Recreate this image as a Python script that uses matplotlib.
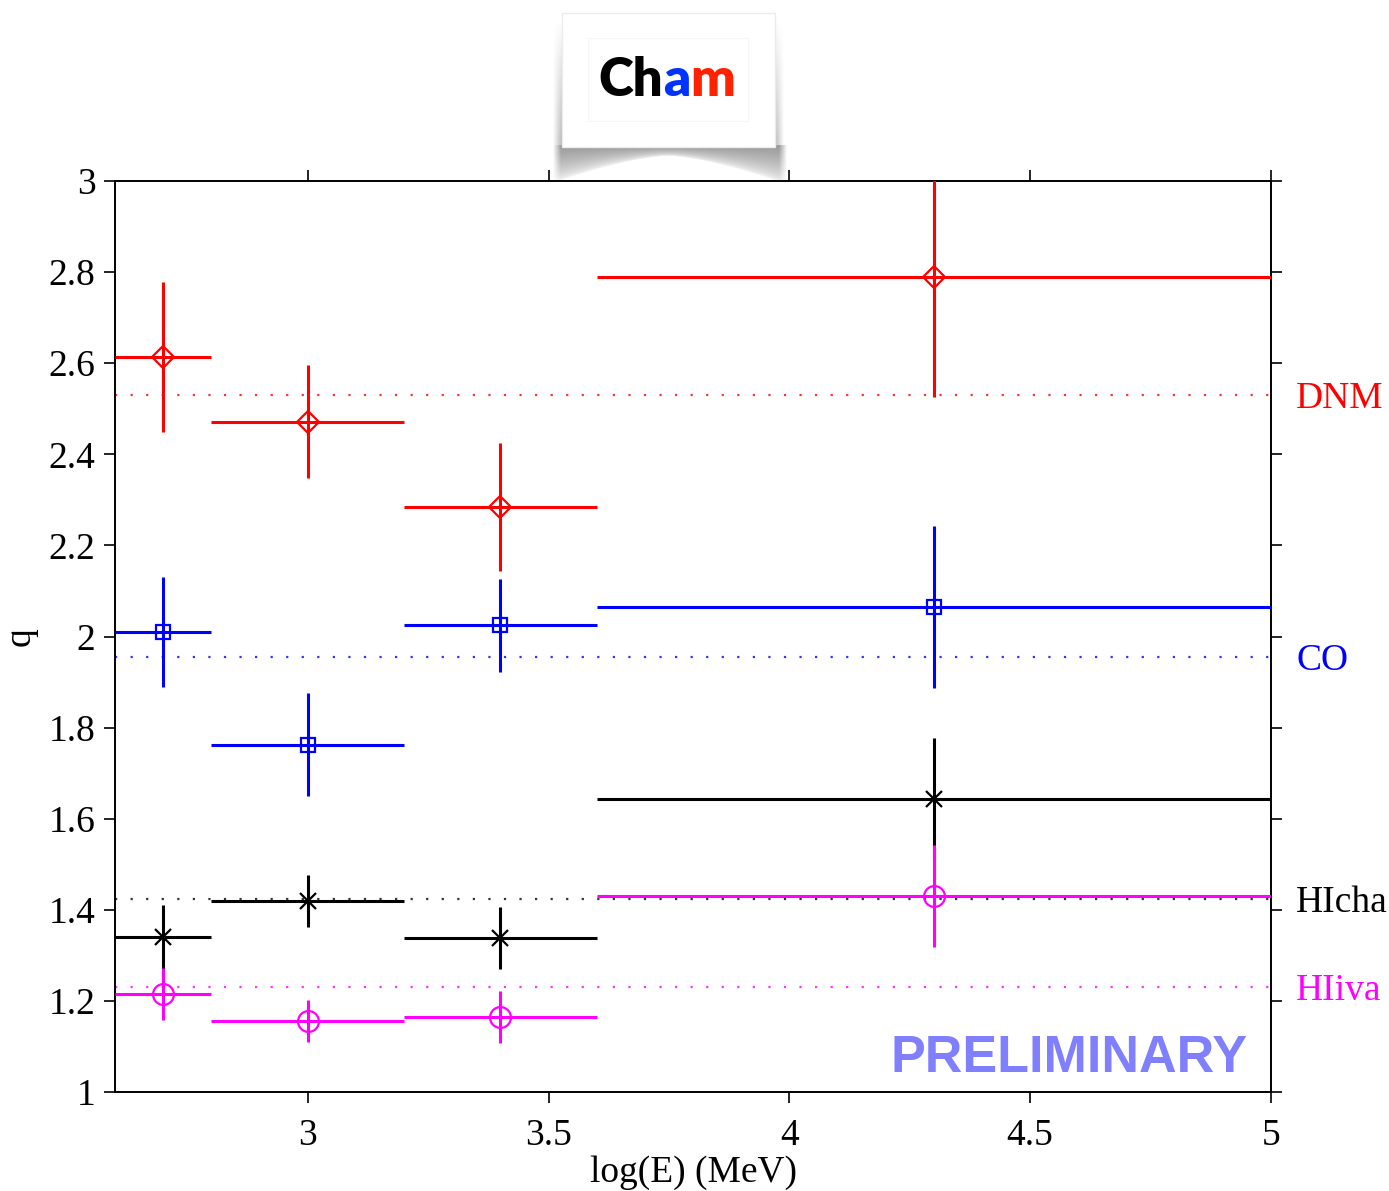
import numpy as np
import matplotlib
matplotlib.use("Agg")
from matplotlib import pyplot as plt
from matplotlib.patches import Rectangle

# energy bins, log10(E/MeV)
bin_lo = [2.6, 2.8, 3.2, 3.6]
bin_hi = [2.8, 3.2, 3.6, 5.0]
bin_center = [2.7, 3.0, 3.4, 4.3]

# q per component and its error
q_dnm = [2.614, 2.471, 2.284, 2.789]
err_dnm = [0.165, 0.124, 0.140, 0.263]
q_co = [2.010, 1.762, 2.025, 2.065]
err_co = [0.120, 0.113, 0.102, 0.177]
q_hicha = [1.340, 1.419, 1.338, 1.643]
err_hicha = [0.070, 0.057, 0.068, 0.134]
q_hiiva = [1.215, 1.156, 1.165, 1.430]
err_hiiva = [0.057, 0.046, 0.057, 0.112]

# full-band averages (dotted lines)
mean_q = {"DNM": 2.530, "CO": 1.955, "HIcha": 1.424, "HIiva": 1.230}

series = [
    ("DNM", q_dnm, err_dnm, "#ff0000", "D", 11.5),
    ("CO", q_co, err_co, "#0000ff", "s", 9.5),
    ("HIcha", q_hicha, err_hicha, "black", "x", 11),
    ("HIiva", q_hiiva, err_hiiva, "#ff00ff", "o", 15),
]

plt.rcParams["font.family"] = ["Liberation Serif", "DejaVu Serif"]

fig = plt.figure(figsize=(13.89, 11.91), dpi=100)
ax = fig.add_axes([115 / 1389, 99 / 1191, 1156 / 1389, 911 / 1191])

xc = np.array(bin_center)
xerr = [xc - np.array(bin_lo), np.array(bin_hi) - xc]

for name, q, err, col, mk, ms in series:
    ax.axhline(mean_q[name], color=col, ls=(0, (1, 6)), lw=1.6, alpha=0.8, zorder=1)
    ax.errorbar(xc, q, yerr=err, xerr=xerr, fmt=mk, color=col, mfc="none",
                mec=col, mew=1.6, ms=ms, elinewidth=2.2, capsize=0, zorder=3)
    ax.text(5.052, mean_q[name], name, color=col, fontsize=27,
            ha="left", va="center_baseline", clip_on=False)

ax.set_xlim(2.6, 5.0)
ax.set_ylim(1.0, 3.0)
ax.set_xticks([3, 3.5, 4, 4.5, 5])
ax.set_xticklabels(["3", "3.5", "4", "4.5", "5"])
ax.set_yticks(np.arange(1.0, 3.01, 0.2))
ax.set_yticklabels(["1", "1.2", "1.4", "1.6", "1.8", "2", "2.2", "2.4", "2.6", "2.8", "3"])
ax.tick_params(direction="out", length=8, width=1.2, labelsize=27, pad=6,
               top=True, right=True)
ax.tick_params(axis="x", pad=11)
for s in ax.spines.values():
    s.set_linewidth(1.4)
ax.set_xlabel("log(E) (MeV)", fontsize=27, labelpad=2)
ax.set_ylabel("q", fontsize=27, labelpad=8)

ax.text(0.98, 0.037, "PRELIMINARY", transform=ax.transAxes, ha="right",
        va="center", color="#8080ff", fontsize=37.5, fontweight="bold",
        family=["Liberation Sans", "DejaVu Sans"])

# logo box with curled shadow
lx0, lx1, ly0, ly1 = 540, 800, 0, 186
lax = fig.add_axes([lx0 / 1389, 1 - ly1 / 1191, (lx1 - lx0) / 1389, (ly1 - ly0) / 1191])
lax.set_xlim(lx0, lx1)
lax.set_ylim(ly1, ly0)
lax.axis("off")
xx, yy = np.meshgrid(np.arange(lx0, lx1) + 0.5, np.arange(ly0, ly1) + 0.5)
cx = 668.0
# curled bottom shadow
ymax = 156 + 27 * (np.abs(xx - cx) / 114.0) ** 1.5
t = np.clip((ymax - yy) / np.maximum(ymax - 147, 1), 0, 1)
edge = np.clip(np.minimum(xx - 553, 787 - xx) / 8.0, 0, 1)
bottom = np.where(yy > 145, t ** 0.6 * 0.55 * edge, 0.0)
# soft side shadows, stronger towards the bottom
dx = np.maximum(562 - xx, xx - 775)
fall = np.clip(1 - dx / 9.0, 0, 1) * (dx > 0)
vert = np.clip((yy - 20) / 120.0, 0, 1)
side = np.where(yy < 150, fall * vert * 0.4, 0.0)
shadow = np.maximum(bottom, side)
rgba = np.zeros(shadow.shape + (4,))
rgba[..., :3] = 0.3
rgba[..., 3] = shadow
lax.imshow(rgba, extent=(lx0, lx1, ly1, ly0), interpolation="bilinear", zorder=1)
lax.add_patch(Rectangle((562, 13), 213, 134, facecolor="white", edgecolor="#ececec", lw=1, zorder=2))
lax.add_patch(Rectangle((588, 38), 160, 83, facecolor="white", edgecolor="#f6f6f6", lw=0.8, zorder=3))
logo_font = ["Lato", "DejaVu Sans"]
tx = lax.text(598, 80, "Ch", color="black", fontsize=38, fontweight="heavy",
              family=logo_font, ha="left", va="center", zorder=4)
fig.canvas.draw()
bb = tx.get_window_extent().transformed(lax.transData.inverted())
ta = lax.text(bb.x1, 80, "a", color="#0033ff", fontsize=38, fontweight="heavy",
              family=logo_font, ha="left", va="center", zorder=4)
fig.canvas.draw()
bb = ta.get_window_extent().transformed(lax.transData.inverted())
lax.text(bb.x1, 80, "m", color="#ff2200", fontsize=38, fontweight="heavy",
         family=logo_font, ha="left", va="center", zorder=4)

fig.savefig("out.png", dpi=100)
